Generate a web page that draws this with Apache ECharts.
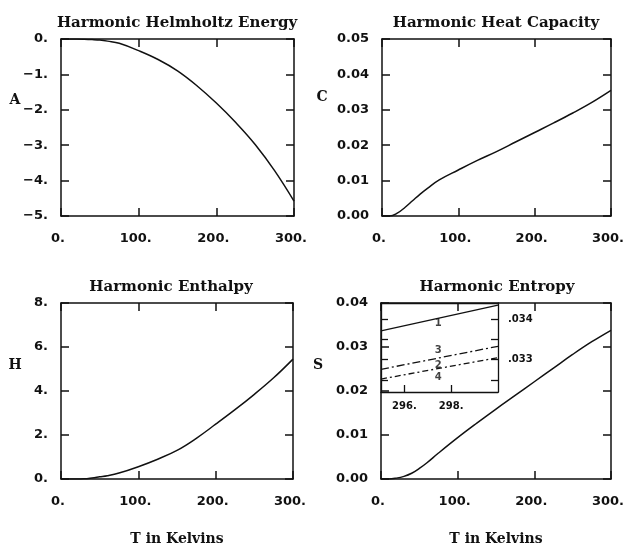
<!DOCTYPE html>
<html>
<head>
<meta charset="utf-8">
<script src="https://cdn.jsdelivr.net/npm/echarts@6/dist/echarts.min.js"></script>
<style>
  html, body { margin: 0; padding: 0; background: #fff; }
  #chart { width: 627px; height: 547px; }
</style>
</head>
<body>
<div id="chart"></div>
<script>
// temperatures (K) shared by the four panels
var temps = [0, 10, 20, 30, 40, 50, 60, 75, 100, 125, 150, 175, 200, 225, 250, 275, 300];
var helmholtz = [0, 0, 0, -0.005, -0.015, -0.03, -0.06, -0.12, -0.33, -0.58, -0.9, -1.32, -1.81, -2.36, -2.98, -3.72, -4.58];
var heatCapacity = [0, 0, 0.0008, 0.0024, 0.0043, 0.0062, 0.0079, 0.0102, 0.013, 0.0157, 0.0182, 0.0209, 0.0236, 0.0263, 0.0291, 0.0321, 0.0355];
var enthalpy = [0, 0, 0, 0.01, 0.05, 0.1, 0.15, 0.27, 0.56, 0.9, 1.3, 1.85, 2.49, 3.15, 3.85, 4.6, 5.45];
var entropy = [0, 0, 0.0002, 0.0006, 0.0013, 0.0024, 0.0037, 0.0059, 0.0094, 0.0127, 0.0159, 0.019, 0.0221, 0.0252, 0.0283, 0.0312, 0.0338];

// inset of the entropy panel
var insetTemps = [295, 300];
var insetLine1 = [0.03371, 0.03435];
var insetLine3 = [0.03276, 0.03333];
var insetLine4 = [0.03252, 0.03305];
var insetTags = [[297.45, 0.0339, '1'], [297.45, 0.03323, '3'], [297.45, 0.03286, '2'], [297.45, 0.03256, '4']];
var insetXTicks = [296, 298];
var insetYTicks = [0.0325, 0.033, 0.0335, 0.034];
var insetYLabels = [0.033, 0.034];

var titles = ['Harmonic Helmholtz Energy', 'Harmonic Heat Capacity', 'Harmonic Enthalpy', 'Harmonic Entropy'];
var yNames = ['A', 'C', 'H', 'S'];

var ink = '#111';
var chart = echarts.init(document.getElementById('chart'));

function pairs(xs, ys) {
  return xs.map(function (x, i) { return [x, ys[i]]; });
}
function dotted(v) { return (v < 0 ? '\u2212' + (-v) : v) + '.'; }

var tickLabel = { fontFamily: 'DejaVu Sans', fontWeight: 'bold', fontSize: 13, color: ink };
var line = { color: ink, width: 1.5 };

var grids = [
  { left: 61, top: 39, width: 233, height: 177 },
  { left: 382, top: 39, width: 233, height: 177 },
  { left: 61, top: 303, width: 232, height: 177 },
  { left: 381, top: 303, width: 234, height: 177 },
  { left: 381, top: 303, width: 117, height: 89 }
];
var yRanges = [
  { min: -5, max: 0, interval: 1, fmt: dotted },
  { min: 0, max: 0.05, interval: 0.01, fmt: function (v) { return v.toFixed(2); } },
  { min: 0, max: 8, interval: 2, fmt: dotted },
  { min: 0, max: 0.04, interval: 0.01, fmt: function (v) { return v.toFixed(2); } }
];

var xAxis = [], yAxis = [], series = [];
var curves = [helmholtz, heatCapacity, enthalpy, entropy];

for (var i = 0; i < 4; i++) {
  var bottomRow = i >= 2;
  var base = {
    gridIndex: i, type: 'value', min: 0, max: 300, interval: 100,
    axisLine: { onZero: false, lineStyle: line },
    axisTick: { inside: true, length: 8, lineStyle: line },
    splitLine: { show: false }
  };
  xAxis.push(Object.assign({}, base, {
    position: 'bottom',
    axisLabel: Object.assign({ margin: 16, padding: [0, 6, 0, 0], formatter: dotted }, tickLabel),
    name: bottomRow ? 'T in Kelvins' : '',
    nameLocation: 'middle', nameGap: 53,
    nameTextStyle: { fontFamily: 'DejaVu Serif', fontWeight: 'bold', fontSize: 14, color: ink }
  }));
  xAxis.push(Object.assign({}, base, { position: 'top', axisLabel: { show: false } }));
  var yr = yRanges[i];
  var ybase = {
    gridIndex: i, type: 'value', min: yr.min, max: yr.max, interval: yr.interval,
    axisLine: { onZero: false, lineStyle: line },
    axisTick: { inside: true, length: 8, lineStyle: line },
    splitLine: { show: false }
  };
  yAxis.push(Object.assign({}, ybase, {
    position: 'left',
    axisLabel: Object.assign({ margin: 13, formatter: yr.fmt }, tickLabel)
  }));
  yAxis.push(Object.assign({}, ybase, { position: 'right', axisLabel: { show: false } }));
  series.push({
    type: 'line', xAxisIndex: 2 * i, yAxisIndex: 2 * i,
    data: pairs(temps, curves[i]), smooth: 0.4, showSymbol: false,
    lineStyle: line, silent: true
  });
}

// inset axes
var insetLine = { color: ink, width: 1.3 };
xAxis.push({
  gridIndex: 4, type: 'value', min: 295, max: 300, position: 'bottom',
  axisLine: { onZero: false, lineStyle: insetLine },
  axisTick: { inside: true, length: 7, lineStyle: insetLine, customValues: insetXTicks },
  axisLabel: { customValues: insetXTicks, margin: 9, formatter: dotted,
    fontFamily: 'DejaVu Sans', fontWeight: 'bold', fontSize: 10, color: ink },
  splitLine: { show: false }
});
xAxis.push({
  gridIndex: 4, type: 'value', min: 295, max: 300, position: 'top',
  axisLine: { onZero: false, lineStyle: insetLine }, axisTick: { show: false }, axisLabel: { show: false },
  splitLine: { show: false }
});
yAxis.push({
  gridIndex: 4, type: 'value', min: 0.0322, max: 0.0344, position: 'left',
  axisLine: { onZero: false, lineStyle: insetLine },
  axisTick: { inside: true, length: 7, lineStyle: insetLine, customValues: insetYTicks },
  axisLabel: { show: false }, splitLine: { show: false }
});
yAxis.push({
  gridIndex: 4, type: 'value', min: 0.0322, max: 0.0344, position: 'right',
  axisLine: { onZero: false, lineStyle: insetLine },
  axisTick: { inside: true, length: 7, lineStyle: insetLine, customValues: insetYTicks },
  axisLabel: { customValues: insetYLabels, margin: 10,
    formatter: function (v) { return v.toFixed(3).replace(/^0/, ''); },
    fontFamily: 'DejaVu Sans', fontWeight: 'bold', fontSize: 10, color: ink },
  splitLine: { show: false }
});

var insetSets = [
  { data: insetLine1, type: 'solid' },
  { data: insetLine3, type: [8, 3, 2, 3] },
  { data: insetLine4, type: [6, 3, 2, 3] }
];
insetSets.forEach(function (s) {
  series.push({
    type: 'line', xAxisIndex: 8, yAxisIndex: 8, data: pairs(insetTemps, s.data),
    showSymbol: false, silent: true,
    lineStyle: { color: ink, width: 1.3, type: s.type }
  });
});
series.push({
  type: 'scatter', xAxisIndex: 8, yAxisIndex: 8, data: insetTags, symbolSize: 1,
  itemStyle: { color: 'transparent' }, silent: true,
  label: { show: true, position: 'inside', formatter: function (p) { return p.value[2]; },
    fontFamily: 'DejaVu Sans', fontWeight: 'bold', fontSize: 10, color: ink }
});

var titleCenters = [[177, 16], [496, 16], [171, 280], [497, 280]];
var nameSpots = [[15, 100], [322, 97], [15, 365], [318, 365]];

chart.setOption({
  animation: false,
  backgroundColor: '#fff',
  title: titles.map(function (t, k) {
    return {
      text: t, left: titleCenters[k][0], top: titleCenters[k][1], textAlign: 'center', padding: 0,
      textStyle: { fontFamily: 'DejaVu Serif', fontWeight: 'bold', fontSize: 15, color: ink }
    };
  }),
  graphic: yNames.map(function (n, k) {
    return {
      type: 'text', x: nameSpots[k][0], y: nameSpots[k][1],
      style: { text: n, align: 'center', verticalAlign: 'middle',
        font: 'bold 14px "DejaVu Serif"', fill: ink }
    };
  }),
  grid: grids,
  xAxis: xAxis,
  yAxis: yAxis,
  series: series
});
</script>
</body>
</html>
